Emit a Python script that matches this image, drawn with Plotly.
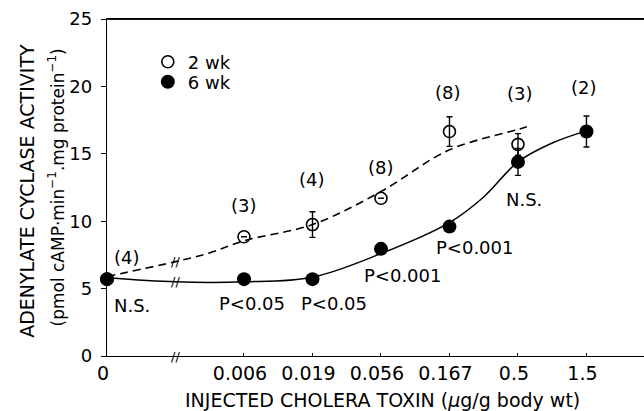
import plotly.graph_objects as go

# ---- data ----
dose_labels = ["0", "0.006", "0.019", "0.056", "0.167", "0.5", "1.5"]
# position of each dose on the broken (log-3) dose axis; 0 sits left of the break
dose_pos = [0, 2, 3, 4, 5, 6, 7]

wk2_values = [5.7, 8.85, 9.75, 11.7, 16.65, 15.7, None]
wk2_err = [0, 0, 0.95, 0, 1.1, 0.8, 0]
wk2_n = ["(4)", "(3)", "(4)", "(8)", "(8)", "(3)", None]

wk6_values = [5.7, 5.7, 5.7, 7.95, 9.6, 14.4, 16.65]
wk6_err = [0, 0, 0, 0, 0, 1.0, 1.15]
wk6_sig = ["N.S.", "P&lt;0.05", "P&lt;0.05", "P&lt;0.001", "P&lt;0.001", "N.S.", None]
wk6_n = [None, None, None, None, None, None, "(2)"]

# fitted curves (knots, axis-position units)
dash_curve_x = [0, 1, 1.5, 2, 3, 4, 5, 6, 6.13]
dash_curve_y = [5.9, 7.0, 7.65, 8.55, 9.75, 12.2, 15.3, 16.8, 17.0]
solid_curve_x = [0, 1, 2, 3, 4, 5, 5.5, 6, 6.5, 7]
solid_curve_y = [5.8, 5.5, 5.5, 5.85, 7.6, 9.9, 11.8, 14.4, 15.8, 16.7]

y_ticks = [0, 5, 10, 15, 20, 25]
x_range = [0, 7.84]
y_range = [0, 25]
break_pos = 1

FONT = "DejaVu Sans"
fig = go.Figure()

fig.add_trace(go.Scatter(x=dash_curve_x, y=dash_curve_y, mode="lines",
                         line=dict(color="black", width=1.6, dash="8px,5px", shape="spline"),
                         showlegend=False, hoverinfo="skip"))
fig.add_trace(go.Scatter(x=solid_curve_x, y=solid_curve_y, mode="lines",
                         line=dict(color="black", width=1.5, shape="spline"),
                         showlegend=False, hoverinfo="skip"))

x2 = [p for p, v in zip(dose_pos, wk2_values) if v is not None]
y2 = [v for v in wk2_values if v is not None]
e2 = [e for e, v in zip(wk2_err, wk2_values) if v is not None]
fig.add_trace(go.Scatter(x=x2, y=y2, mode="markers", name="2 wk", legend="legend",
                         marker=dict(symbol="circle-open", size=12, color="black",
                                     line=dict(width=1.6, color="black")),
                         error_y=dict(type="data", array=e2, visible=True, color="black",
                                      thickness=1.4, width=3),
                         cliponaxis=False))
fig.add_trace(go.Scatter(x=dose_pos, y=wk6_values, mode="markers", name="6 wk", legend="legend2",
                         marker=dict(symbol="circle", size=14, color="black"),
                         error_y=dict(type="data", array=wk6_err, visible=True, color="black",
                                      thickness=1.4, width=3),
                         cliponaxis=False))

ann = []
n_shift = [(20, 22), (0, 31), (0, 45), (0, 31), (-1, 39), (2, 51), None]
for p, v, t, s in zip(dose_pos, wk2_values, wk2_n, n_shift):
    if t is None:
        continue
    ann.append(dict(x=p, y=v, text=t, showarrow=False, xshift=s[0], yshift=s[1],
                    font=dict(family=FONT, size=18, color="black")))
for p, v, t in zip(dose_pos, wk6_values, wk6_n):
    if t is None:
        continue
    ann.append(dict(x=p, y=v, text=t, showarrow=False, xshift=-2, yshift=44,
                    font=dict(family=FONT, size=18, color="black")))
sig_shift = [(25, -26), (8, -24), (22, -24), (22, -27), (25, -21), (6, -38), None]
for p, v, t, s in zip(dose_pos, wk6_values, wk6_sig, sig_shift):
    if t is None:
        continue
    ann.append(dict(x=p, y=v, text=t, showarrow=False, xshift=s[0], yshift=s[1],
                    font=dict(family=FONT, size=18, color="black")))

# axis-break marks
for yb in [0, 5.5, 7.0]:
    ann.append(dict(x=break_pos, y=yb, text="//", showarrow=False,
                    font=dict(family=FONT, size=13, color="black")))

# y title (two lines)
ann.append(dict(xref="paper", yref="paper", x=(27 - 107) / 537, y=0.49,
                text="ADENYLATE CYCLASE ACTIVITY", textangle=-90, showarrow=False,
                xanchor="center", yanchor="middle",
                font=dict(family=FONT, size=19, color="black")))
ann.append(dict(xref="paper", yref="paper", x=(56 - 107) / 537, y=0.5,
                text="(pmol cAMP·min<sup>−1</sup>.mg protein<sup>−1</sup>)", textangle=-90,
                showarrow=False, xanchor="center", yanchor="middle",
                font=dict(family=FONT, size=17, color="black")))
# x title
ann.append(dict(xref="paper", yref="paper", x=(382 - 107) / 537, y=-(400 - 356) / 337,
                text="INJECTED CHOLERA TOXIN (<i>μ</i>g/g body wt)", showarrow=False,
                xanchor="center", yanchor="middle",
                font=dict(family=FONT, size=19, color="black")))
# top frame line, drawn as an arrowless annotation line on the top layer
ann.append(dict(x=x_range[1], y=y_range[1], ax=x_range[0], ay=y_range[1],
                xref="x", yref="y", axref="x", ayref="y", text="",
                showarrow=True, arrowhead=0, arrowwidth=1.5, arrowcolor="black",
                standoff=0, startstandoff=0))

leg_common = dict(xanchor="left", yanchor="middle", bgcolor="rgba(0,0,0,0)",
                  font=dict(family=FONT, size=18, color="black"), itemsizing="trace")

fig.update_layout(
    width=644, height=411,
    margin=dict(l=107, r=0, t=19, b=55, autoexpand=False),
    paper_bgcolor="white", plot_bgcolor="white",
    font=dict(family=FONT, size=17, color="black"),
    annotations=ann,
    showlegend=True,
    legend=dict(x=0.076, y=(356 - 62) / 337, **leg_common),
    legend2=dict(x=0.076, y=(356 - 82) / 337, **leg_common),
    shapes=[dict(type="line", xref="paper", yref="paper", x0=0, x1=1, y0=1, y1=1,
                 layer="above", line=dict(color="black", width=1.5))],
    xaxis=dict(range=x_range, tickvals=dose_pos, ticktext=dose_labels,
               showline=True, linecolor="black", linewidth=1.4, mirror=True,
               ticks="inside", ticklen=3, tickcolor="black", showgrid=False, zeroline=False,
               automargin=False, ticklabelshift=-4, tickfont=dict(family=FONT, size=19)),
    yaxis=dict(range=y_range, tickvals=y_ticks,
               showline=True, linecolor="black", linewidth=1.4,
               ticks="outside", ticklen=5, tickcolor="black", showgrid=False, zeroline=False,
               automargin=False, ticklabelstandoff=5, tickfont=dict(family=FONT, size=18)),
)

fig.write_html("out.html", config={"displayModeBar": False},
               post_script="document.body.style.margin='0';")
